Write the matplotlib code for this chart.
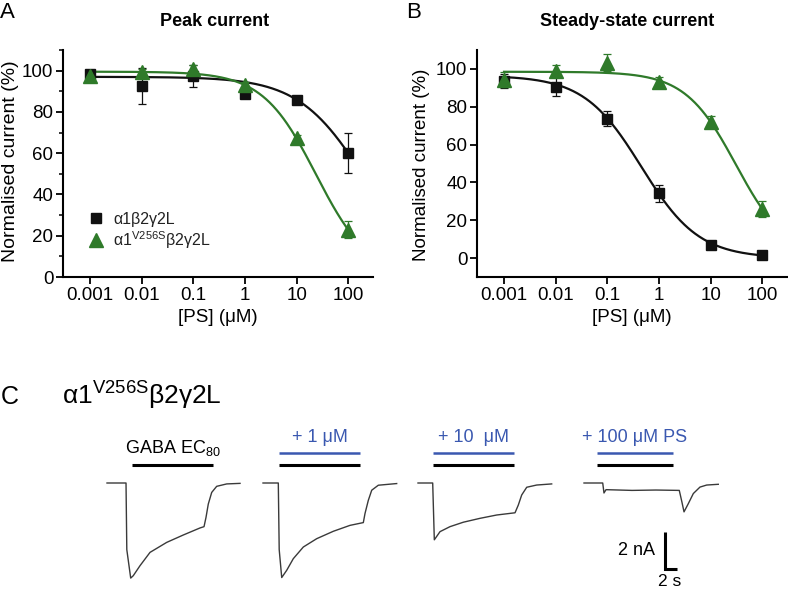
import numpy as np
import matplotlib
matplotlib.use("Agg")
import matplotlib.pyplot as plt
from matplotlib.ticker import FixedLocator, NullFormatter, LogLocator

plt.rcParams['font.family'] = ['Liberation Sans', 'DejaVu Sans']
plt.rcParams['mathtext.fontset'] = 'custom'
plt.rcParams['mathtext.rm'] = 'Liberation Sans'
plt.rcParams['mathtext.it'] = 'Liberation Sans:italic'

# ---------------- data ----------------
conc = [0.001, 0.01, 0.1, 1, 10, 100]          # [PS] (uM)

# Panel A: peak current (%)
peak_wt = [98.5, 92.5, 97.3, 88.7, 86.0, 60.1]
peak_wt_err = [2.0, 8.7, 5.4, 1.5, 1.8, 9.6]
peak_mut = [97.6, 99.3, 101.0, 93.0, 67.2, 22.9]
peak_mut_err = [2.0, 1.5, 1.5, 1.5, 1.5, 4.0]

# Panel B: steady-state current (%)
ss_wt = [93.7, 90.7, 73.7, 34.2, 7.0, 1.4]
ss_wt_err = [3.6, 5.0, 4.0, 4.4, 1.0, 0.8]
ss_mut = [94.2, 99.1, 103.3, 93.3, 71.9, 25.8]
ss_mut_err = [4.0, 3.0, 4.5, 2.2, 3.2, 4.2]

# Hill-fit parameters: (top, IC50 uM, Hill slope)
fit_peak_wt = (97.0, 203.0, 0.68)
fit_peak_mut = (99.5, 23.6, 0.84)
fit_ss_wt = (96.5, 0.456, 0.78)
fit_ss_mut = (98.5, 31.0, 0.88)

legend_labels = ['α1β2γ2L', r'α1$^{\mathrm{V256S}}$β2γ2L']
xtick_vals = [0.001, 0.01, 0.1, 1, 10, 100]
xtick_labels = ['0.001', '0.01', '0.1', '1', '10', '100']

# Panel C: current traces (time s, current nA), read from the recordings
trace1_t = [0, 3.17, 3.3, 3.95, 4.38, 5.5, 7.17, 9.95, 12.72, 15.5, 16.17, 16.5, 16.88,
            17.45, 18.28, 19.95, 22.17]
trace1_i = [0, 0, -3.6, -5.14, -5.01, -4.47, -3.75, -3.21, -2.81, -2.43, -2.36, -1.86,
            -1.14, -0.51, -0.18, -0.05, -0.02]
trace2_t = [0, 2.55, 2.7, 3.12, 3.95, 5.05, 6.72, 8.95, 11.72, 14.5, 16.72, 17.0, 17.55,
            18.12, 19.22, 22.28]
trace2_i = [0, 0, -3.6, -5.11, -4.72, -4.09, -3.46, -3.01, -2.61, -2.29, -2.14, -1.65,
            -0.94, -0.39, -0.12, -0.03]
trace3_t = [0, 2.45, 2.72, 3.67, 5.33, 7.55, 10.33, 13.12, 16.17, 16.72, 17.28, 18.12, 19.78, 22.28]
trace3_i = [0, 0, -3.07, -2.63, -2.36, -2.12, -1.91, -1.73, -1.61, -1.19, -0.65, -0.23, -0.11, -0.05]
trace4_t = [0, 3.12, 3.33, 3.67, 8.0, 12.0, 15.88, 16.3, 16.67, 17.38, 18.22, 19.33, 20.45, 22.38]
trace4_i = [0, 0, -0.54, -0.36, -0.40, -0.38, -0.40, -1.0, -1.56, -1.12, -0.57, -0.22, -0.11, -0.07]
gaba_on = [4.17, 2.67, 2.5, 2.17]
gaba_off = [17.67, 16.17, 16.0, 14.83]
ps_labels = [None, '+ 1 μM', '+ 10  μM', '+ 100 μM PS']
scale_nA = 2
scale_s = 2

# ---------------- figure ----------------
W, H = 788, 592
fig = plt.figure(figsize=(W / 100, H / 100), dpi=100)

def fx(px):
    return px / W

def fy(py):
    return 1 - py / H

green = '#2f7a2a'
black = '#111111'

def hill(x, p):
    top, ic, h = p
    return top / (1 + (x / ic) ** h)

def make_panel(left_px, ylim, yticks, fits, datasets, title, title_x, letter, letter_x,
               ylab_x, ylab_y, ylab_fs):
    ax = fig.add_axes([fx(left_px), fy(277), fx(310), (277 - 50) / H])
    ax.set_xscale('log')
    ax.set_xlim(3e-4, 3e2)
    ax.set_ylim(*ylim)
    for s in ['top', 'right']:
        ax.spines[s].set_visible(False)
    for s in ['left', 'bottom']:
        ax.spines[s].set_linewidth(1.5)
    ax.set_xticks(xtick_vals)
    ax.set_xticklabels(xtick_labels)
    ax.xaxis.set_minor_locator(LogLocator(base=10, subs=np.arange(2, 10)))
    ax.xaxis.set_minor_formatter(NullFormatter())
    ax.set_yticks(yticks)
    ax.yaxis.set_minor_locator(FixedLocator(np.arange(ylim[0] + 10, 111, 20)))
    ax.tick_params(which='major', length=5, width=1.3, labelsize=13.5, pad=2, color='black')
    ax.tick_params(which='minor', length=3, width=1.1)
    xx = np.logspace(-3, 2, 300)
    for p, c in zip(fits, [black, green]):
        ax.plot(xx, hill(xx, p), color=c, lw=1.6, zorder=2)
    handles = []
    for (vals, errs, marker, c, ms) in datasets:
        ax.errorbar(conc, vals, yerr=errs, fmt='none', ecolor=c, elinewidth=0.9,
                    capsize=3, capthick=0.9, zorder=3)
        hdl, = ax.plot(conc, vals, linestyle='none', marker=marker, color=c,
                       markersize=ms, zorder=4)
        handles.append(hdl)
    ax.set_xlabel('[PS] (μM)', fontsize=13.5, labelpad=4)
    fig.text(fx(ylab_x), fy(ylab_y), 'Normalised current (%)', rotation=90,
             ha='center', va='center', fontsize=ylab_fs)
    fig.text(fx(title_x), fy(21), title, ha='center', va='center',
             fontsize=13, fontweight='bold')
    fig.text(fx(letter_x), fy(12), letter, ha='left', va='center', fontsize=16)
    return ax, handles

datasets_A = [(peak_wt, peak_wt_err, 's', black, 7.4),
              (peak_mut, peak_mut_err, '^', green, 9.5)]
axA, hA = make_panel(63, (0, 110), [0, 20, 40, 60, 80, 100],
                     [fit_peak_wt, fit_peak_mut], datasets_A,
                     'Peak current', 215, 'A', 0, 11, 161, 14)
axA.legend(hA, legend_labels, loc='lower left', bbox_to_anchor=(fx(78), fy(259)),
           bbox_transform=fig.transFigure, frameon=False, fontsize=11.5,
           handletextpad=0.5, labelspacing=0.15, borderpad=0, handlelength=1.2,
           labelcolor='#222222')

datasets_B = [(ss_wt, ss_wt_err, 's', black, 7.4),
              (ss_mut, ss_mut_err, '^', green, 9.5)]
axB, hB = make_panel(477, (-10, 110), [0, 20, 40, 60, 80, 100],
                     [fit_ss_wt, fit_ss_mut], datasets_B,
                     'Steady-state current', 627, 'B', 406, 422, 165, 13.5)

# ---------------- panel C ----------------
px_per_s = 6.0
px_per_nA = 18.5
base_py = 483
axC = fig.add_axes([0, 0, 1, fy(420)])
axC.set_xlim(0, W / px_per_s)
axC.set_ylim(-(H - base_py) / px_per_nA, (base_py - 420) / px_per_nA)
axC.axis('off')

trace_start_px = [107, 263, 418, 584]
traces = [(trace1_t, trace1_i), (trace2_t, trace2_i), (trace3_t, trace3_i), (trace4_t, trace4_i)]
black_bar_y = (base_py - 465) / px_per_nA
blue_bar_y = (base_py - 453) / px_per_nA
blue_lab_y = (base_py - 437) / px_per_nA
gaba_lab_y = (base_py - 448) / px_per_nA
blue = '#3a58b0'
for k, ((t, i), spx) in enumerate(zip(traces, trace_start_px)):
    off = spx / px_per_s
    axC.plot(np.array(t) + off, i, color='#3a3a3a', lw=1.0, solid_joinstyle='round')
    axC.plot([gaba_on[k] + off, gaba_off[k] + off], [black_bar_y] * 2, color='black', lw=2.2,
             solid_capstyle='butt')
    if ps_labels[k] is not None:
        axC.plot([gaba_on[k] + off, gaba_off[k] + off], [blue_bar_y] * 2, color=blue, lw=1.8,
                 solid_capstyle='butt')
        axC.text((gaba_on[k] + gaba_off[k]) / 2 + off, blue_lab_y, ps_labels[k],
                 ha='center', va='center', color=blue, fontsize=13)
    else:
        axC.text((gaba_on[k] + gaba_off[k]) / 2 + off, gaba_lab_y, 'GABA EC$_{80}$',
                 ha='center', va='center', color='black', fontsize=13)

# scale bar
sb_x = 665 / px_per_s
sb_y0 = -(569 - base_py) / px_per_nA
axC.plot([sb_x, sb_x, sb_x + scale_s], [sb_y0 + scale_nA, sb_y0, sb_y0], color='black',
         lw=2.2, solid_capstyle='butt', solid_joinstyle='miter')
axC.text(sb_x - 10 / px_per_s, sb_y0 + scale_nA / 2, f'{scale_nA} nA', ha='right', va='center',
         fontsize=13)
axC.text(sb_x + 5 / px_per_s, -(582 - base_py) / px_per_nA, f'{scale_s} s', ha='center', va='center',
         fontsize=12.5)

fig.text(fx(1), fy(397), 'C', ha='left', va='center', fontsize=18)
fig.text(fx(62), fy(396), r'α1$^{\mathrm{V256S}}$β2γ2L', ha='left', va='center', fontsize=19)

fig.savefig('out.png', dpi=100)
